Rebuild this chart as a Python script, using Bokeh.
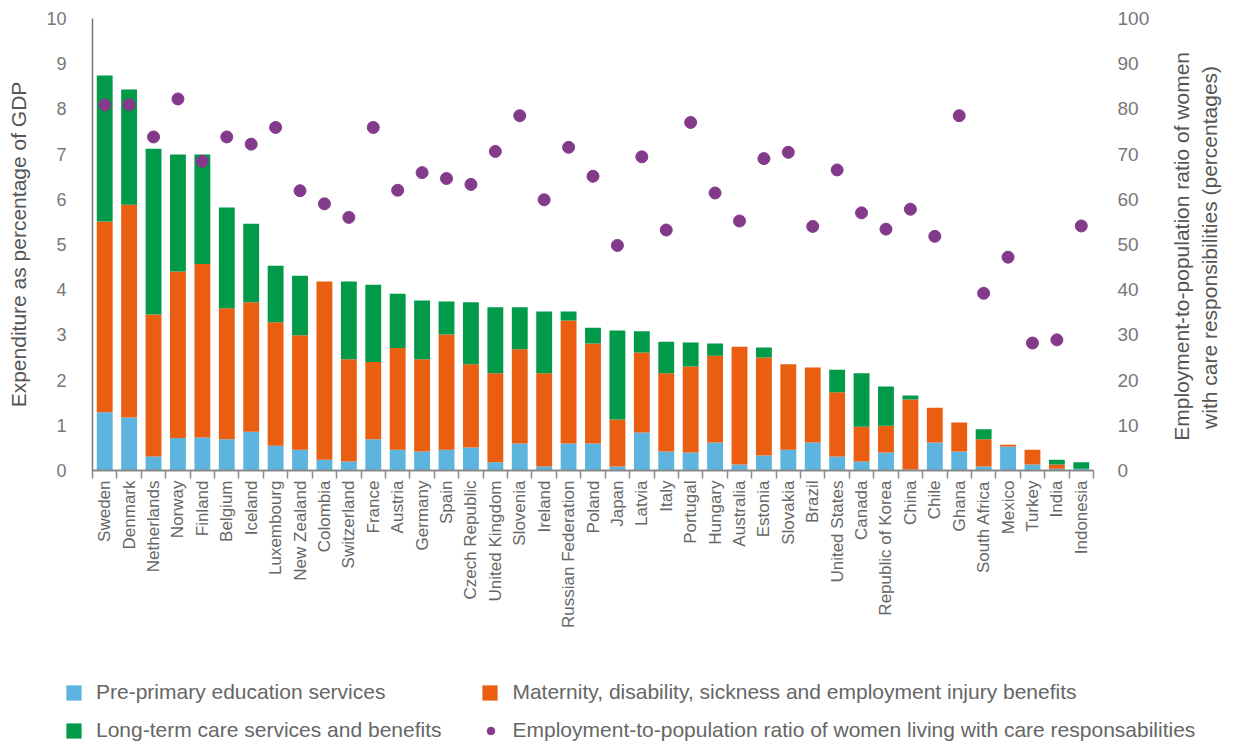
import math
from bokeh.plotting import figure
from bokeh.layouts import column
from bokeh.models import (Range1d, LinearAxis, FixedTicker,
                          Legend, LegendItem, ColumnDataSource)
from bokeh.embed import file_html
from bokeh.resources import INLINE

countries = ["Sweden", "Denmark", "Netherlands", "Norway", "Finland", "Belgium", "Iceland",
             "Luxembourg", "New Zealand", "Colombia", "Switzerland", "France", "Austria",
             "Germany", "Spain", "Czech Republic", "United Kingdom", "Slovenia", "Ireland",
             "Russian Federation", "Poland", "Japan", "Latvia", "Italy", "Portugal", "Hungary",
             "Australia", "Estonia", "Slovakia", "Brazil", "United States", "Canada",
             "Republic of Korea", "China", "Chile", "Ghana", "South Africa", "Mexico",
             "Turkey", "India", "Indonesia"]

# Expenditure as % of GDP (stack components)
pre_primary = [1.29, 1.17, 0.31, 0.72, 0.73, 0.69, 0.86, 0.55, 0.46, 0.24, 0.20, 0.69, 0.46,
               0.42, 0.46, 0.51, 0.18, 0.60, 0.09, 0.60, 0.60, 0.09, 0.84, 0.42, 0.40, 0.62,
               0.13, 0.33, 0.46, 0.62, 0.31, 0.20, 0.40, 0.02, 0.62, 0.42, 0.09, 0.53,
               0.13, 0.04, 0.04]
maternity = [4.22, 4.71, 3.14, 3.68, 3.84, 2.90, 2.86, 2.73, 2.53, 3.94, 2.26, 1.71, 2.25,
             2.04, 2.55, 1.84, 1.97, 2.08, 2.06, 2.72, 2.21, 1.04, 1.77, 1.73, 1.90, 1.92,
             2.61, 2.17, 1.89, 1.66, 1.42, 0.77, 0.59, 1.55, 0.77, 0.64, 0.60, 0.04,
             0.33, 0.09, 0.00]
long_term = [3.23, 2.55, 3.67, 2.59, 2.42, 2.23, 1.74, 1.25, 1.32, 0.00, 1.72, 1.71, 1.20,
             1.30, 0.73, 1.37, 1.46, 0.93, 1.37, 0.20, 0.35, 1.97, 0.47, 0.70, 0.53, 0.27,
             0.00, 0.22, 0.00, 0.00, 0.50, 1.18, 0.87, 0.09, 0.00, 0.00, 0.22, 0.00,
             0.00, 0.11, 0.14]
# Employment-to-population ratio of women with care responsibilities (%)
employment_ratio = [80.9, 80.9, 73.8, 82.2, 68.4, 73.8, 72.2, 75.9, 61.9, 59.0, 56.0, 75.9,
                    62.0, 65.9, 64.6, 63.3, 70.6, 78.5, 59.9, 71.5, 65.1, 49.8, 69.4, 53.2,
                    77.0, 61.4, 55.2, 69.0, 70.4, 54.0, 66.5, 57.0, 53.4, 57.8, 51.8, 78.5,
                    39.2, 47.2, 28.2, 28.9, 54.1]

left_ticks = list(range(0, 11))
right_ticks = list(range(0, 101, 10))

left_title = "Expenditure as percentage of GDP"
right_title_lines = ["Employment-to-population ratio of women",
                     "with care responsibilities (percentages)"]

legend_labels = ["Pre-primary education services",
                 "Maternity, disability, sickness and employment injury benefits",
                 "Long-term care services and benefits",
                 "Employment-to-population ratio of women living with care responsabilities"]

BLUE, ORANGE, GREEN, PURPLE = "#5db4de", "#e95e10", "#009a49", "#843a8b"
FONT = "Liberation Sans"

n = len(countries)
idx = list(range(n))
source = ColumnDataSource(dict(x=idx, pre=pre_primary, mat=maternity, ltc=long_term,
                               emp=employment_ratio))

# ---------------- main chart ----------------
p = figure(width=1235, height=680, output_backend="svg", toolbar_location=None,
           x_range=Range1d(-0.5, n - 0.5), y_range=Range1d(0, 10),
           x_axis_location=None, y_axis_location=None,
           min_border_left=92, min_border_right=137, min_border_top=18, min_border_bottom=210)
p.extra_y_ranges = {"pct": Range1d(0, 100)}
p.outline_line_color = None
p.xgrid.visible = False
p.ygrid.visible = False

bars = p.vbar_stack(["pre", "mat", "ltc"], x="x", width=0.65, source=source,
                    fill_color=[BLUE, ORANGE, GREEN], line_color=None)
dots = p.scatter("x", "emp", source=source, size=12, fill_color=PURPLE, line_color=PURPLE,
                 y_range_name="pct")

# x axis: boundary ticks (minor) and country labels at centres
xaxis = LinearAxis(ticker=FixedTicker(ticks=idx, minor_ticks=[i - 0.5 for i in range(n + 1)]),
                   major_label_overrides={i: c for i, c in enumerate(countries)},
                   major_label_orientation=math.pi / 2,
                   major_tick_line_color=None, major_tick_out=8, major_tick_in=0,
                   minor_tick_line_color="#8a8a8a", minor_tick_out=8, minor_tick_in=0,
                   minor_tick_line_width=1.5,
                   axis_line_color="#8a8a8a", axis_line_width=2,
                   major_label_standoff=2,
                   major_label_text_font=FONT, major_label_text_font_size="17px",
                   major_label_text_color="#666666")
p.add_layout(xaxis, "below")

yaxis = LinearAxis(ticker=FixedTicker(ticks=left_ticks),
                   axis_label=left_title,
                   axis_label_text_font=FONT, axis_label_text_font_size="21px",
                   axis_label_text_font_style="normal", axis_label_text_color="#555555",
                   axis_label_standoff=13,
                   major_tick_line_color=None, major_tick_out=0, major_tick_in=0,
                   minor_tick_line_color=None,
                   axis_line_color="#7a7a7a", axis_line_width=1.5,
                   major_label_standoff=26,
                   major_label_text_font=FONT, major_label_text_font_size="18px",
                   major_label_text_color="#777777")
p.add_layout(yaxis, "left")

raxis = LinearAxis(y_range_name="pct", ticker=FixedTicker(ticks=right_ticks),
                   major_tick_line_color=None, major_tick_out=0, major_tick_in=0,
                   minor_tick_line_color=None, axis_line_color=None,
                   major_label_standoff=24,
                   major_label_text_font=FONT, major_label_text_font_size="19px",
                   major_label_text_color="#777777")
p.add_layout(raxis, "right")

# right-hand title: two rotated lines, each carried by a label-only axis
for line, start, standoff in [(right_title_lines[0], 6.6, 29), (right_title_lines[1], 9.2, 2)]:
    tax = LinearAxis(y_range_name="pct", ticker=FixedTicker(ticks=[start], minor_ticks=[]),
                     major_label_overrides={start: line},
                     major_label_orientation=math.pi / 2,
                     major_tick_line_color=None, major_tick_out=0, major_tick_in=0,
                     minor_tick_line_color=None, axis_line_color=None,
                     major_label_standoff=standoff,
                     major_label_text_font=FONT, major_label_text_font_size="21px",
                     major_label_text_color="#555555")
    p.add_layout(tax, "right")

# ---------------- legend strip ----------------
lg = figure(width=1235, height=62, output_backend="svg", toolbar_location=None,
            x_range=Range1d(-100, -99), y_range=Range1d(0, 1),
            x_axis_location=None, y_axis_location=None,
            min_border_left=64, min_border_right=0, min_border_top=0, min_border_bottom=0)
lg.outline_line_color = None
lg.xgrid.visible = False
lg.ygrid.visible = False

try:
    lg.frame_align = False          # keep this strip's frame independent of the chart's
    free_frame = True
except Exception:
    free_frame = False

# legend keys: the same data, drawn outside this strip's visible range
k_pre = lg.vbar(x="x", top="pre", width=0.65, source=source, fill_color=BLUE, line_color=None)
k_mat = lg.vbar(x="x", top="mat", width=0.65, source=source, fill_color=ORANGE, line_color=None)
k_ltc = lg.vbar(x="x", top="ltc", width=0.65, source=source, fill_color=GREEN, line_color=None)
k_emp = lg.scatter(x="x", y="emp", source=source, size=12, fill_color=PURPLE,
                   line_color=PURPLE)

if free_frame:
    fsize, s1, s2 = "21px", 95, 39
else:
    fsize, s1, s2 = "16px", 53, 10


def make_legend(items, spacing, loc):
    return Legend(items=items, location=loc, orientation="horizontal",
                  label_text_font=FONT, label_text_font_size=fsize,
                  label_text_color="#666666",
                  glyph_width=19, glyph_height=19, label_standoff=13, label_height=22,
                  spacing=spacing, padding=0, margin=0,
                  border_line_color=None, background_fill_alpha=0)


row1 = make_legend([LegendItem(label=legend_labels[0], renderers=[k_pre]),
                    LegendItem(label=legend_labels[1], renderers=[k_mat])], s1, "top_left")
row2 = make_legend([LegendItem(label=legend_labels[2], renderers=[k_ltc]),
                    LegendItem(label=legend_labels[3], renderers=[k_emp])], s2, "bottom_left")
lg.add_layout(row1)
lg.add_layout(row2)

page = column(p, lg, spacing=0)
open("out.html", "w").write(file_html(page, INLINE))
